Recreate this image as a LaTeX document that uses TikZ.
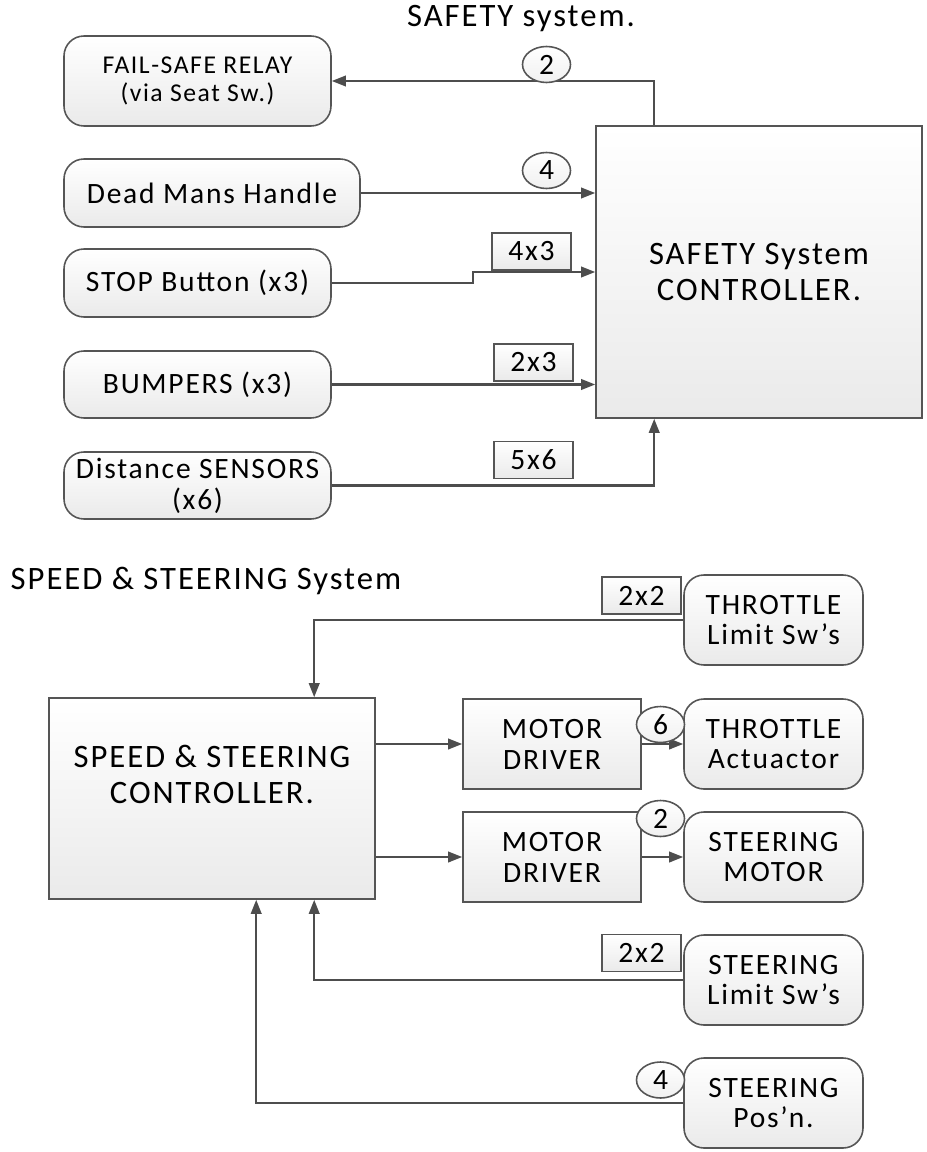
\documentclass[tikz,border=0pt]{standalone}
\usepackage{fontspec}
\setmainfont{Carlito}
\newfontfamily\boxfont{Carlito}[LetterSpace=6]
\newfontfamily\bigfont{Carlito}[LetterSpace=6]
\usepackage{tikz}
\usetikzlibrary{shapes.geometric,arrows.meta}
\definecolor{linegray}{HTML}{4D4D4D}
\definecolor{boxgray}{HTML}{555555}
\definecolor{fillgray}{HTML}{EAEAEA}

\begin{document}
\begin{tikzpicture}
 [x=1cm, y=-1cm,
  conn/.style={draw=linegray, line width=0.6pt},
  arr/.style={conn, -{Triangle[length=4pt,width=3pt]}},
  unit/.style={draw=boxgray, line width=0.45pt, top color=white, bottom color=fillgray,
    rounded corners=0.2cm, align=center, inner sep=0pt, minimum width=2.67cm,
    font=\boxfont\fontsize{8.4}{8.8}\selectfont},
  ctrl/.style={draw=boxgray, line width=0.45pt, top color=white, bottom color=fillgray,
    align=center, inner sep=0pt, minimum width=3.26cm,
    font=\bigfont\fontsize{9.3}{10.2}\selectfont},
  drv/.style={draw=boxgray, line width=0.45pt, top color=white, bottom color=fillgray,
    align=center, inner sep=0pt, minimum width=1.78cm, minimum height=0.9cm,
    font=\boxfont\fontsize{8.4}{8.8}\selectfont},
  tag/.style={draw=boxgray, line width=0.45pt, top color=white, bottom color=fillgray,
    inner sep=0pt, minimum width=0.79cm, minimum height=0.37cm,
    font=\boxfont\fontsize{8.4}{8.8}\selectfont},
  num/.style={ellipse, draw=boxgray, line width=0.45pt, top color=white, bottom color=fillgray!70,
    inner sep=0pt, minimum width=0.48cm, minimum height=0.36cm,
    font=\boxfont\fontsize{8.4}{8.8}\selectfont},
  head/.style={inner sep=0pt, font=\bigfont\fontsize{9.3}{10.2}\selectfont}]

  \useasboundingbox (0,0) rectangle (9.26,11.52);

  % SAFETY system
  \node[head, anchor=base] (safetitle) at (5.21,0.27) {SAFETY system.};
  \node[ctrl, minimum height=2.92cm] (sc) at (7.59,2.72) {SAFETY System\\CONTROLLER.};

  \node[unit, minimum height=0.9cm, font=\boxfont\fontsize{7.3}{7.9}\selectfont]
    (relay) at (1.975,0.81) {FAIL-SAFE RELAY\\(via Seat Sw.)};
  \node[unit, minimum width=2.96cm, minimum height=0.68cm] (dead) at (2.12,1.93) {Dead Mans Handle};
  \node[unit, minimum height=0.68cm] (stop) at (1.975,2.83) {STOP Button (x3)};
  \node[unit, minimum height=0.67cm] (bump) at (1.975,3.845) {BUMPERS (x3)};
  \node[unit, minimum height=0.67cm] (dist) at (1.975,4.855) {Distance SENSORS\\(x6)};

  \draw[arr] ([xshift=0.59cm]sc.north west) |- (relay.east);
  \draw[arr] (dead.east) -- (dead.east -| sc.west);
  \draw[arr] (stop.east) -- ++(1.41,0) |- (sc.west);
  \draw[arr] (bump.east) -- (bump.east -| sc.west);
  \draw[arr] (dist.east) -| ([xshift=0.59cm]sc.south west);

  \node[num] (n2a) at (5.465,0.645) {2};
  \node[num] (n4a) at (5.465,1.705) {4};
  \node[tag] (t4x3) at (5.315,2.515) {4x3};
  \node[tag] (t2x3) at (5.335,3.625) {2x3};
  \node[tag] (t5x6) at (5.335,4.60) {5x6};

  % SPEED & STEERING system
  \node[head, anchor=base west] (speedtitle) at (0.10,5.89) {SPEED \& STEERING System};
  \node[ctrl, minimum height=2.01cm] (spc) at (2.12,7.985) {};
  \node[head, align=center] (spctext) at (2.12,7.745) {SPEED \& STEERING\\CONTROLLER.};

  \node[unit, minimum width=1.79cm, minimum height=0.9cm] (thl) at (7.735,6.20) {THROTTLE\\Limit Sw’s};
  \node[drv] (md1) at (5.52,7.44) {MOTOR\\DRIVER};
  \node[unit, minimum width=1.79cm, minimum height=0.9cm] (tha) at (7.735,7.44) {THROTTLE\\Actuactor};
  \node[drv] (md2) at (5.52,8.57) {MOTOR\\DRIVER};
  \node[unit, minimum width=1.79cm, minimum height=0.9cm] (stm) at (7.735,8.57) {STEERING\\MOTOR};
  \node[unit, minimum width=1.79cm, minimum height=0.9cm] (stl) at (7.735,9.80) {STEERING\\Limit Sw’s};
  \node[unit, minimum width=1.79cm, minimum height=0.9cm] (pos) at (7.735,11.03) {STEERING\\Pos’n.};

  \draw[arr] (thl.west) -| ([xshift=2.66cm]spc.north west);
  \draw[arr] (spc.east |- md1.west) -- (md1.west);
  \draw[arr] (md1.east) -- (tha.west);
  \draw[arr] (spc.east |- md2.west) -- (md2.west);
  \draw[arr] (md2.east) -- (stm.west);
  \draw[arr] (stl.west) -| ([xshift=2.66cm]spc.south west);
  \draw[arr] (pos.west) -| ([xshift=2.08cm]spc.south west);

  \node[tag] (t2x2a) at (6.415,5.955) {2x2};
  \node[num] (n6) at (6.605,7.245) {6};
  \node[num] (n2b) at (6.605,8.185) {2};
  \node[tag] (t2x2b) at (6.415,9.53) {2x2};
  \node[num] (n4b) at (6.605,10.80) {4};
\end{tikzpicture}
\end{document}
